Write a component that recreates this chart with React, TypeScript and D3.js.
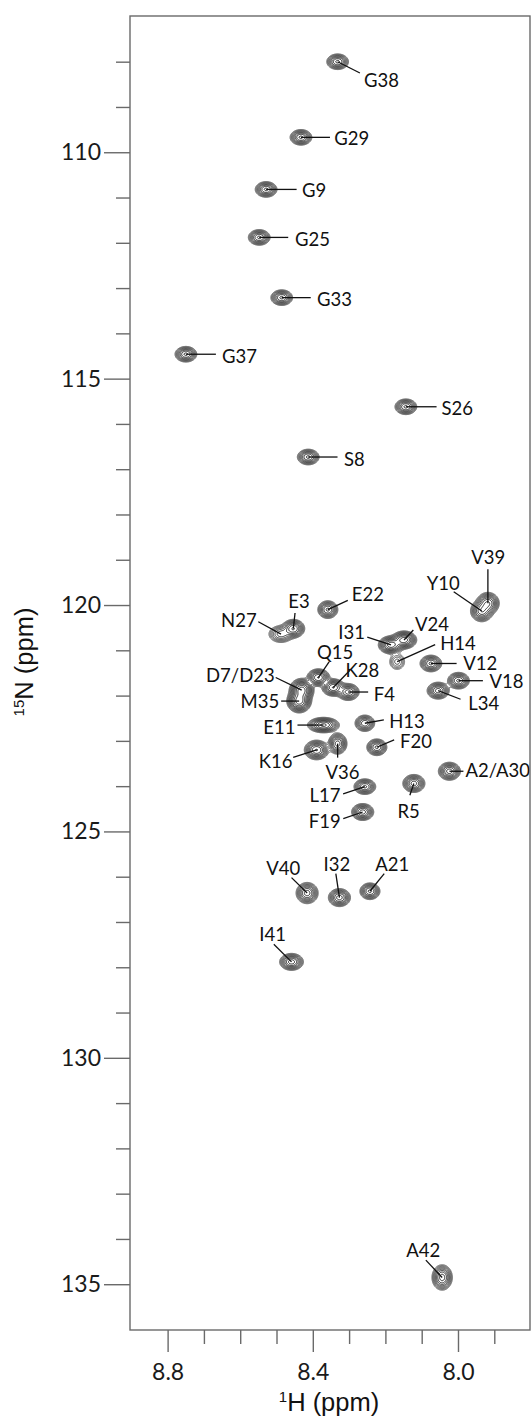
import React, { useMemo } from "react";
import * as d3 from "d3";

// assigned cross peaks (1H ppm, 15N ppm)
const residues = [
  "G38", "G29", "G9", "G25", "G33", "G37", "S26", "S8", "V39", "Y10",
  "E22", "E3", "N27", "I31", "V24", "H14", "V12", "V18", "L34", "F4",
  "K28", "Q15", "D7/D23", "M35", "E11", "H13", "F20", "V36", "K16", "A2/A30",
  "L17", "R5", "F19", "V40", "I32", "A21", "I41", "A42",
];
const shiftH = [
  8.333, 8.434, 8.53, 8.549, 8.487, 8.751, 8.145, 8.414, 7.919, 7.936,
  8.36, 8.455, 8.489, 8.186, 8.15, 8.169, 8.076, 8.0, 8.056, 8.304,
  8.345, 8.386, 8.432, 8.439, 8.372, 8.258, 8.225, 8.333, 8.391, 8.025,
  8.258, 8.123, 8.264, 8.417, 8.328, 8.244, 8.46, 8.045,
];
const shiftN = [
  107.99, 109.66, 110.81, 111.87, 113.2, 114.45, 115.61, 116.72, 119.95, 120.12,
  120.09, 120.51, 120.63, 120.87, 120.76, 121.24, 121.28, 121.66, 121.88, 121.91,
  121.81, 121.59, 121.87, 122.11, 122.64, 122.6, 123.13, 123.05, 123.19, 123.66,
  124.0, 123.93, 124.56, 126.35, 126.45, 126.31, 127.87, 134.84,
];
// relative peak heights
const intensity = [
  1, 1, 1, 1, 1, 1, 1, 1, 1.3, 1.2,
  1, 1.3, 0.6, 1.6, 1.6, 0.3, 1, 1, 1.1, 1.1,
  1.3, 1.3, 2.2, 2.2, 1.4, 0.9, 1, 1.1, 1.3, 1.1,
  1, 1.1, 1.1, 1.1, 1.1, 1, 1.1, 1.1,
];
// line widths (gaussian sigma, ppm)
const widthH = [
  0.013, 0.013, 0.013, 0.013, 0.013, 0.013, 0.013, 0.013, 0.013, 0.013,
  0.012, 0.013, 0.016, 0.014, 0.014, 0.012, 0.013, 0.013, 0.013, 0.013,
  0.013, 0.013, 0.013, 0.013, 0.018, 0.012, 0.012, 0.011, 0.014, 0.013,
  0.013, 0.013, 0.013, 0.013, 0.013, 0.012, 0.014, 0.012,
];
const widthN = [
  0.075, 0.075, 0.075, 0.075, 0.075, 0.075, 0.075, 0.075, 0.1, 0.1,
  0.085, 0.085, 0.09, 0.08, 0.08, 0.1, 0.08, 0.08, 0.08, 0.08,
  0.08, 0.08, 0.1, 0.1, 0.07, 0.08, 0.08, 0.1, 0.09, 0.085,
  0.075, 0.085, 0.08, 0.1, 0.085, 0.08, 0.08, 0.12,
];

const xMajorTicks = [8.8, 8.4, 8.0];
const xMinorTicks = [8.7, 8.6, 8.5, 8.3, 8.2, 8.1, 7.9];
const yMajorTicks = [110, 115, 120, 125, 130, 135];
const yMinorTicks = [
  108, 109, 111, 112, 113, 114, 116, 117, 118, 119, 121, 122, 123, 124,
  126, 127, 128, 129, 131, 132, 133, 134,
];

// label placement (px, relative to the peak): text pos, anchor, leader end
const labelLayout: [number, number, string, number, number][] = [
  [26.3, 18.8, "start", 22.3, 11.3],
  [33.3, 1, "start", 29, 0],
  [36, 1, "start", 30.5, 0],
  [35.7, 1.5, "start", 29, 0],
  [35.3, 2, "start", 29, 0],
  [36, 2, "start", 30, 0],
  [35.7, 1.7, "start", 30.7, 0],
  [35.7, 2, "start", 29.3, 0],
  [0.3, -46, "middle", 0, -34],
  [-38.5, -28, "middle", -28, -19.3],
  [24, -15.6, "start", 20, -9.3],
  [5.7, -27, "middle", 1.7, -15.6],
  [-24.3, -14, "end", -22.7, -12.3],
  [-26, -12.5, "end", -23.7, -7.7],
  [11, -15.5, "start", 9.3, -10],
  [43, -18.3, "start", 38, -17],
  [32.3, 0, "start", 25.7, 0],
  [31, 1, "start", 24.4, 0],
  [30, 12.6, "start", 22.4, 8.6],
  [25.7, 2, "start", 20, 0],
  [29, -17.6, "middle", 16.7, -17.3],
  [16.7, -25, "middle", 10.7, -15.6],
  [-27, -15, "end", -26, -12.7],
  [-20, 0.7, "end", -18, 0],
  [-28, 2.3, "end", -26, 0],
  [24.3, -2, "start", 19, -3.3],
  [23.3, -5.6, "start", 17.3, -7.3],
  [4.8, 29, "middle", 0, 14],
  [-24, 11.7, "end", -23.4, 7.3],
  [16, -0.7, "start", 14, 0],
  [-24.3, 8.8, "end", -21.7, 7.3],
  [-5.3, 28, "middle", -4, 11.7],
  [-22, 9.5, "end", -19.4, 6.6],
  [-24, -25, "middle", -15.6, -15.4],
  [-2.6, -33.6, "middle", -3.6, -24],
  [22.2, -27.3, "middle", 14.3, -17.7],
  [-18.9, -27.2, "middle", -17.7, -17.7],
  [-19, -27.6, "middle", -16.3, -17.3],
];

const W = 531;
const H = 1425;
const left = 130;
const top = 16;
const plotW = 400;
const plotH = 1314;

const labelFont = "Lato, 'Open Sans', sans-serif";
const titleFont = "'Liberation Sans', Arial, sans-serif";

export default function App() {
  const x = d3.scaleLinear().domain([8.905, 7.803]).range([0, plotW]);
  const y = d3.scaleLinear().domain([106.98, 136.0]).range([0, plotH]);

  const levels = d3.range(12).map((k) => 0.07 * Math.pow(1.38, k));
  const levelColor = (k: number) =>
    d3.interpolateRgb("#666", "#1c1c1c")(Math.min(1, k / 7));

  const contours = useMemo(() => {
    const n = plotW;
    const m = plotH;
    const grid = new Float64Array(n * m);
    const pxH = Math.abs(x(1) - x(0));
    const pxN = Math.abs(y(1) - y(0));
    residues.forEach((_, i) => {
      const cx = x(shiftH[i]);
      const cy = y(shiftN[i]);
      const sx = widthH[i] * pxH;
      const sy = widthN[i] * pxN;
      const a = intensity[i];
      const i0 = Math.max(0, Math.floor(cx - 4 * sx));
      const i1 = Math.min(n - 1, Math.ceil(cx + 4 * sx));
      const j0 = Math.max(0, Math.floor(cy - 4 * sy));
      const j1 = Math.min(m - 1, Math.ceil(cy + 4 * sy));
      for (let j = j0; j <= j1; j++) {
        const dy = (j + 0.5 - cy) / sy;
        for (let ii = i0; ii <= i1; ii++) {
          const dx = (ii + 0.5 - cx) / sx;
          grid[j * n + ii] += a * Math.exp(-0.5 * (dx * dx + dy * dy));
        }
      }
    });
    return d3.contours().size([n, m]).thresholds(levels)(grid as any);
  }, []);

  const path = d3.geoPath();

  return (
    <svg
      width={W}
      height={H}
      style={{ position: "absolute", left: 0, top: 0, background: "#fff" }}
    >
      <defs>
        <clipPath id="plot-clip">
          <rect x={0} y={0} width={plotW} height={plotH} />
        </clipPath>
      </defs>
      <g transform={`translate(${left},${top})`}>
        {/* contours */}
        <g clipPath="url(#plot-clip)">
          {contours.map((c, k) => (
            <path
              key={k}
              d={path(c as any) || ""}
              fill="none"
              stroke={levelColor(k)}
              strokeWidth={0.95}
            />
          ))}
        </g>

        {/* labels */}
        {residues.map((r, i) => {
          const cx = x(shiftH[i]);
          const cy = y(shiftN[i]);
          const [tx, ty, anchor, lx, ly] = labelLayout[i];
          return (
            <g key={r}>
              <line
                x1={cx}
                y1={cy}
                x2={cx + lx}
                y2={cy + ly}
                stroke="#111"
                strokeWidth={1.3}
              />
              <text
                x={cx + tx}
                y={cy + ty}
                dy="0.36em"
                textAnchor={anchor as any}
                fontFamily={labelFont}
                fontSize={18.5}
                fill="#111"
              >
                {r}
              </text>
            </g>
          );
        })}

        {/* frame */}
        <rect
          x={0}
          y={0}
          width={plotW}
          height={plotH}
          fill="none"
          stroke="#6a6a6a"
          strokeWidth={1.4}
        />

        {/* x axis */}
        {xMajorTicks.map((t) => (
          <g key={`xM${t}`} transform={`translate(${x(t)},${plotH})`}>
            <line y1={0} y2={22} stroke="#6a6a6a" strokeWidth={1.4} />
            <text
              y={50}
              textAnchor="middle"
              fontFamily={labelFont}
              fontSize={23}
              fill="#1a1a1a"
            >
              {t.toFixed(1)}
            </text>
          </g>
        ))}
        {xMinorTicks.map((t) => (
          <line
            key={`xm${t}`}
            x1={x(t)}
            x2={x(t)}
            y1={plotH}
            y2={plotH + 14}
            stroke="#6a6a6a"
            strokeWidth={1.4}
          />
        ))}

        {/* y axis */}
        {yMajorTicks.map((t) => (
          <g key={`yM${t}`} transform={`translate(0,${y(t)})`}>
            <line x1={-26} x2={0} stroke="#6a6a6a" strokeWidth={1.4} />
            <text
              x={-29}
              y={7.5}
              textAnchor="end"
              fontFamily={labelFont}
              fontSize={23}
              fill="#1a1a1a"
            >
              {t}
            </text>
          </g>
        ))}
        {yMinorTicks.map((t) => (
          <line
            key={`ym${t}`}
            x1={-14}
            x2={0}
            y1={y(t)}
            y2={y(t)}
            stroke="#6a6a6a"
            strokeWidth={1.4}
          />
        ))}
      </g>

      {/* axis titles */}
      <text
        x={329}
        y={1411}
        textAnchor="middle"
        fontFamily={titleFont}
        fontSize={25.5}
        fill="#111"
      >
        <tspan fontSize={15} dy={-9}>
          1
        </tspan>
        <tspan dy={9}>H (ppm)</tspan>
      </text>
      <text
        transform="translate(33,662) rotate(-90)"
        textAnchor="middle"
        fontFamily={titleFont}
        fontSize={25.5}
        fill="#111"
      >
        <tspan fontSize={15} dy={-9}>
          15
        </tspan>
        <tspan dy={9}>N (ppm)</tspan>
      </text>
    </svg>
  );
}
